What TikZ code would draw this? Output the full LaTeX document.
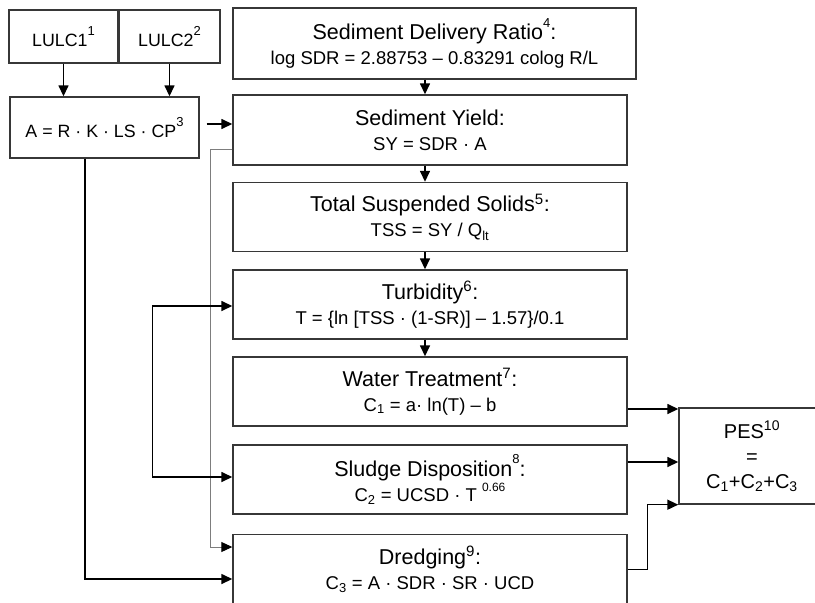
\documentclass[tikz,border=0pt]{standalone}
\usepackage{fontspec}
\setmainfont{Liberation Sans}
\usetikzlibrary{arrows.meta}
\definecolor{boxgray}{RGB}{55,55,55}
\definecolor{linegray}{RGB}{125,125,125}
\newcommand{\hnote}[1]{\raisebox{1.1ex}{\fontsize{13}{13}\selectfont #1}}
\newcommand{\fml}{\fontsize{18.5}{18.5}\selectfont}

\begin{document}
\begin{tikzpicture}[x=1pt, y=-1pt,
  box/.style={draw=boxgray, line width=1.4pt, inner sep=0pt, align=center, font=\fontsize{21.5}{25}\selectfont},
  small/.style={font=\fontsize{17.8}{22}\selectfont},
  wide/.style={box, minimum width=394pt, minimum height=69pt},
  arr/.style={-{Triangle[length=11pt,width=10pt]}, line width=1.5pt}]
\useasboundingbox (0,0) rectangle (815,603);
\node[box, small, minimum width=109pt, minimum height=53pt] (lulc1) at (63.5,36.5) {LULC1\hnote{1}};
\node[box, small, minimum width=101pt, minimum height=53pt] (lulc2) at (169.5,36.5) {LULC2\hnote{2}};
\node[box, small, minimum width=189pt, minimum height=61pt] (ea) at (104.5,127.5) {A = R · K · LS · CP\hnote{3}};
\node[box, minimum width=403pt, minimum height=71pt] (sdr) at (434.5,43.5) {Sediment Delivery Ratio\hnote{4}:\\{\fml log SDR = 2.88753 – 0.83291 colog R/L}};
\node[wide, minimum height=70pt] (sy) at (430,130) {Sediment Yield:\\{\fml SY = SDR · A}};
\node[wide] (tss) at (430,217) {Total Suspended Solids\textsuperscript{5}:\\{\fml TSS = SY / Q\textsubscript{lt}}};
\node[wide] (turb) at (430,304.5) {Turbidity\textsuperscript{6}:\\{\fml T = \{ln [TSS · (1-SR)] – 1.57\}/0.1}};
\node[wide] (wt) at (430,391.5) {Water Treatment\textsuperscript{7}:\\{\fml C\textsubscript{1} = a· ln(T) – b}};
\node[wide] (sludge) at (430,479.5) {Sludge Disposition\hnote{8}:\\{\fml C\textsubscript{2} = UCSD · T \raisebox{1ex}{\fontsize{12}{12}\selectfont 0.66}}};
\node[wide, minimum height=70pt] (dredge) at (430,569.5) {Dredging\textsuperscript{9}:\\{\fml C\textsubscript{3} = A · SDR · SR · UCD}};
\node[box, minimum width=146pt, minimum height=96pt, font=\fontsize{20}{25}\selectfont] (pes) at (752,456) {PES\textsuperscript{10}\\=\\C\textsubscript{1}+C\textsubscript{2}+C\textsubscript{3}};
\coordinate (ax) at (425,0);
\coordinate (bx) at (85,0);
\draw[arr] (lulc1) -- (lulc1 |- ea.north);
\draw[arr] (lulc2) -- (lulc2 |- ea.north);
\draw[arr, shorten <=7pt] ([yshift=3.5pt]ea.east) -- ([yshift=3.5pt]ea.east -| sy.west);
\draw[arr] (sdr.south -| ax) -- (sy.north -| ax);
\draw[arr] (sy.south -| ax) -- (tss.north -| ax);
\draw[arr] (tss.south -| ax) -- (turb.north -| ax);
\draw[arr] (turb.south -| ax) -- (wt.north -| ax);
\draw[-{Triangle[length=11pt,width=10pt,color=black]}, linegray, line width=1pt] ([yshift=-19pt]sy.west) -- ++(-22,0) |- ([yshift=22.5pt]dredge.west);
\draw[{Triangle[length=11pt,width=10pt]}-{Triangle[length=11pt,width=10pt]}, line width=1.5pt] ([yshift=-1.5pt]turb.west) -- ++(-80,0) |- ([yshift=2.5pt]sludge.west);
\draw[arr] (ea.south -| bx) |- ([yshift=-9.5pt]dredge.west);
\draw[arr] ([yshift=-17.5pt]wt.east) -- ([yshift=-17.5pt]wt.east -| pes.west);
\draw[arr] ([yshift=17.5pt]sludge.east) -- ([yshift=17.5pt]sludge.east -| pes.west);
\draw[arr] (dredge.east) -- ++(20,0) |- (pes.south west);
\end{tikzpicture}
\end{document}
